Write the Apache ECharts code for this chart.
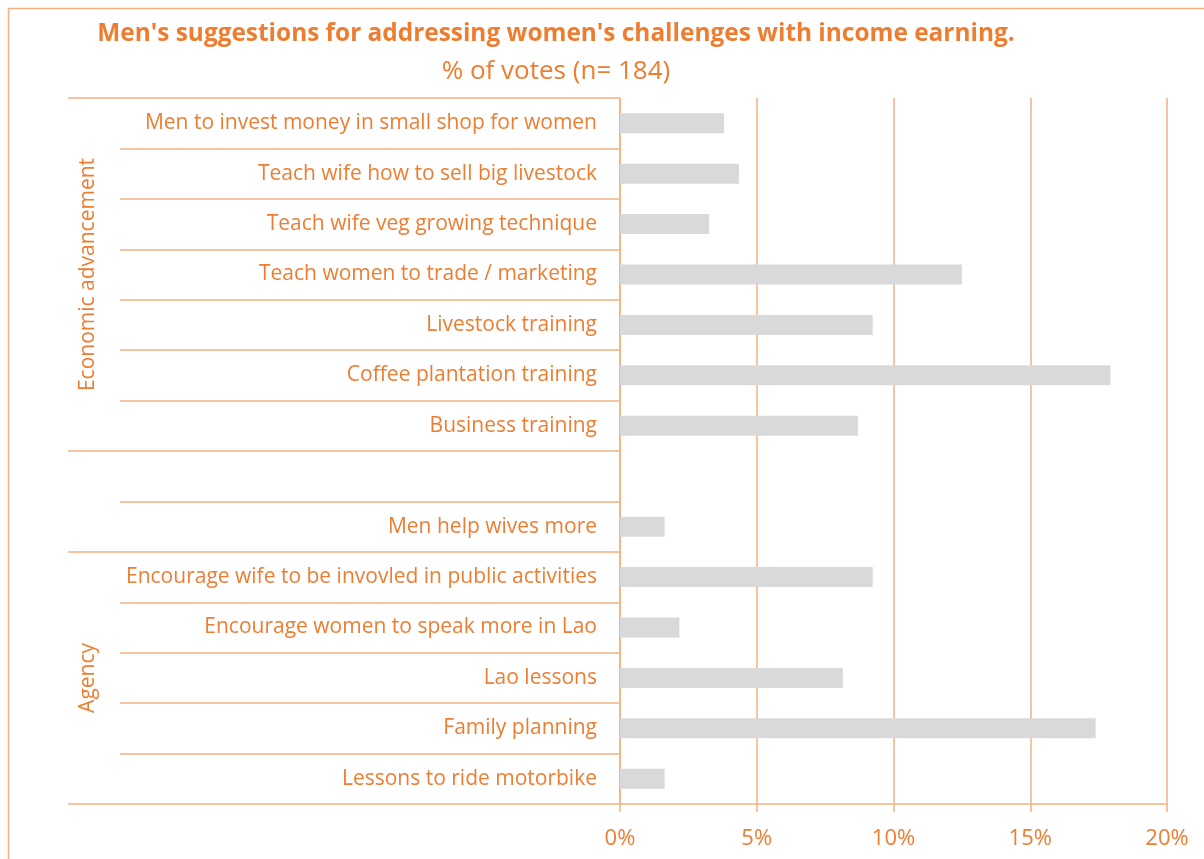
<!DOCTYPE html>
<html>
<head>
<meta charset="utf-8">
<script src="https://cdn.jsdelivr.net/npm/echarts@6/dist/echarts.min.js"></script>
<style>
  html, body { margin: 0; padding: 0; background: #fff; }
  #chart { width: 1204px; height: 859px; }
</style>
</head>
<body>
<div id="chart"></div>
<script>
// categories top to bottom, '' is the empty spacer row
const suggestions = [
  'Men to invest money in small shop for women',
  'Teach wife how to sell big livestock',
  'Teach wife veg growing technique',
  'Teach women to trade / marketing',
  'Livestock training',
  'Coffee plantation training',
  'Business training',
  '',
  'Men help wives more',
  'Encourage wife to be invovled in public activities',
  'Encourage women to speak more in Lao',
  'Lao lessons',
  'Family planning',
  'Lessons to ride motorbike'
]
// % of votes (n = 184)
const votePct = [3.8, 4.35, 3.26, 12.5, 9.24, 17.93, 8.7, null, 1.63, 9.24, 2.17, 8.15, 17.39, 1.63]

// outer category groups and how many rows each spans
const groupNames = ['Economic advancement', '', 'Agency']
const groupRows = [7, 2, 5]

const xTicks = [0, 5, 10, 15, 20]

const ORANGE = '#ED7D31'
const LINE = '#F4B183'
const FONT = 'Open Sans'

// row index -> group label (only on the middle row), group start rows
const groupLabelAt = {}
const groupStarts = []
let start = 0
groupRows.forEach((n, i) => {
  groupStarts.push(start)
  groupLabelAt[start + Math.floor(n / 2)] = groupNames[i]
  start += n
})

const chart = echarts.init(document.getElementById('chart'))

chart.setOption({
  animation: false,
  backgroundColor: '#fff',
  title: [
    {
      text: "Men's suggestions for addressing women's challenges with income earning.",
      left: 551,
      top: 17,
      textAlign: 'center',
      textStyle: { color: ORANGE, fontFamily: FONT, fontSize: 24.4, fontWeight: 'bold' }
    },
    {
      text: '% of votes (n= 184)',
      left: 551,
      top: 54,
      textAlign: 'center',
      textStyle: { color: ORANGE, fontFamily: FONT, fontSize: 26, fontWeight: 'normal' }
    }
  ],
  graphic: [{
    type: 'rect',
    left: 6,
    top: 6,
    shape: { width: 1220, height: 880 },
    style: { fill: 'none', stroke: LINE, lineWidth: 1.5 },
    silent: true
  }],
  grid: { left: 620, right: 37, top: 98, bottom: 55 },
  xAxis: {
    type: 'value',
    min: xTicks[0],
    max: xTicks[xTicks.length - 1],
    interval: 5,
    axisLine: { show: true, lineStyle: { color: LINE, width: 1.5 } },
    axisTick: { show: true, length: 8, lineStyle: { color: LINE, width: 1.5 } },
    splitLine: { show: true, lineStyle: { color: LINE, width: 1.5 } },
    axisLabel: {
      color: ORANGE, fontFamily: FONT, fontSize: 22, margin: 24,
      formatter: '{value}%'
    }
  },
  yAxis: [
    {
      type: 'category',
      inverse: true,
      data: suggestions,
      axisLine: { show: true, lineStyle: { color: LINE, width: 1.5 } },
      axisTick: { show: true, length: 500, lineStyle: { color: LINE, width: 1.5 } },
      splitLine: { show: false },
      axisLabel: {
        color: ORANGE, fontFamily: FONT, fontSize: 21, margin: 23, interval: 0,
        padding: [4, 0, 0, 0]
      }
    },
    {
      type: 'category',
      inverse: true,
      position: 'left',
      offset: 500,
      data: suggestions.map((s, i) => groupLabelAt[i] || ''),
      axisLine: { show: false },
      axisTick: {
        show: true,
        length: 52,
        interval: (i) => groupStarts.indexOf(i) >= 0,
        lineStyle: { color: LINE, width: 1.5 }
      },
      splitLine: { show: false },
      axisLabel: {
        color: ORANGE, fontFamily: FONT, fontSize: 21, margin: 21, rotate: 90,
        interval: (i) => groupLabelAt[i] !== undefined
      }
    }
  ],
  series: [{
    type: 'bar',
    yAxisIndex: 0,
    data: votePct,
    barWidth: 20,
    itemStyle: { color: '#D9D9D9' }
  }]
})
</script>
</body>
</html>
